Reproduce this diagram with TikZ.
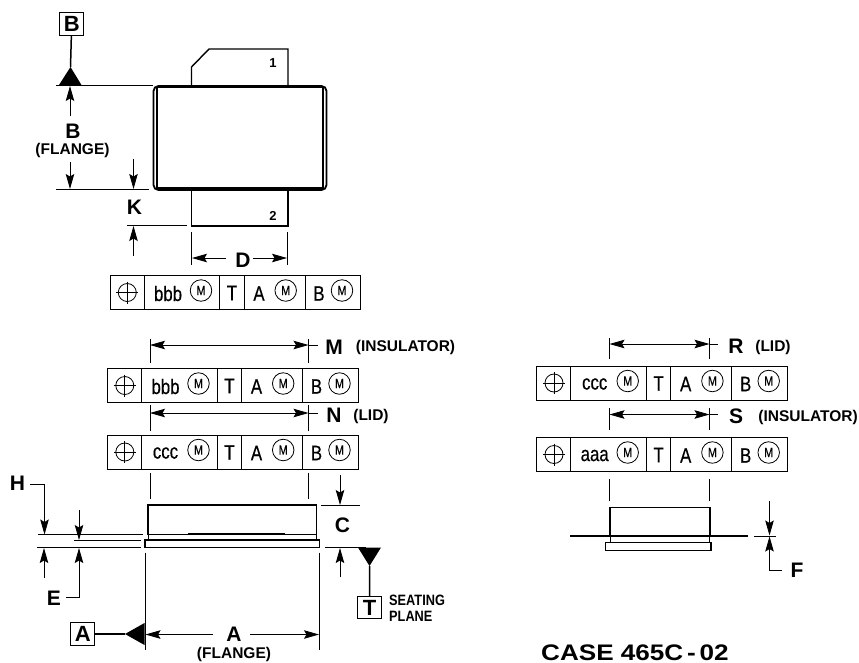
\documentclass[tikz,border=0pt]{standalone}
\usepackage{fontspec}
\setmainfont{Liberation Sans}
\newfontfamily\narrowfont[FakeStretch=0.8,FakeBold=0.4]{Liberation Sans}
\newfontfamily\narrowbold[FakeStretch=0.85]{Liberation Sans Bold}
\newfontfamily\widebold[FakeStretch=1.16]{Liberation Sans Bold}
\usetikzlibrary{fit,arrows.meta}

\tikzset{
    dim/.style={line width=0.8pt},
    dimtip/.tip={Stealth[length=15pt,width=8.5pt,inset=2.5pt]},
    dimarrow/.style={dim, -dimtip},
    dimboth/.style={dim, dimtip-dimtip},
    part/.style={line width=1.4pt},
    stem/.style={line width=1.5pt},
    datumbox/.style={draw, line width=1pt, fill=white, minimum width=24pt, minimum height=22.5pt, inner sep=0pt, font=\fontsize{22}{24}\selectfont\bfseries},
    biglabel/.style={inner sep=0pt, font=\fontsize{21}{23}\selectfont\bfseries},
    smalllabel/.style={inner sep=0pt, font=\fontsize{15.5}{17}\selectfont\bfseries},
    pinlabel/.style={inner sep=0pt, font=\fontsize{13}{14}\selectfont\bfseries},
    seatlabel/.style={inner sep=0pt, anchor=west, font=\fontsize{15}{16}\narrowbold},
    celltext/.style={inner sep=0pt, font=\fontsize{21}{23}\narrowfont},
    mcircle/.style={draw, circle, line width=0.8pt, minimum size=21.5pt, inner sep=0pt, font=\fontsize{13.5}{15}\narrowfont},
}

% one tolerance frame: name, left, top, first value
\newcommand{\tolframe}[4]{
    \begin{scope}[shift={(#2,#3)}]
        \foreach \cell/\xa/\xb in {a/0/34, b/34/109.5, c/109.5/134, d/134/195, e/195/250.5}
            \node[draw, line width=1pt, fit={(\xa, 0) (\xb, 34)}, inner sep=0pt] (#1\cell) {};

        \node[circle, draw, dim, minimum size=18pt, inner sep=0pt] (#1sym) at (17.3, 17) {};
        \draw [dim]             (6.3, 17)--(28.3, 17);
        \draw [dim]             (17.3, 6)--(17.3, 28);

        \node[celltext] (#1val) at (58, 18) {#4};
        \node[mcircle]  (#1m)   at (91, 15) {M};
        \node[celltext] (#1t)   at (122, 17.5) {T};
        \node[celltext] (#1ref) at (149, 18) {A};
        \node[mcircle]  (#1ma)  at (175.7, 15) {M};
        \node[celltext] (#1rfb) at (209, 18) {B};
        \node[mcircle]  (#1mb)  at (232, 15) {M};
    \end{scope}
}

\begin{document}
\begin{tikzpicture}[x=1pt, y=-1pt]
    \useasboundingbox (0, 0) rectangle (859, 662);

    % top view
    \draw [line width=1.8pt, rounded corners=5pt] (153.5, 86) rectangle (326.5, 190);
    \draw [part]            (157, 87.5) rectangle (323, 188);
    \draw [part]            (191.5, 87)--(191.5, 67)--(209, 49)--(288, 49)--(288, 87);
    \draw [part]            (191.5, 188)--(191.5, 226)--(288, 226)--(288, 188);
    \node[pinlabel] (pinA) at (273, 63) {1};
    \node[pinlabel] (pinB) at (273, 216) {2};

    \node[datumbox] (datumB) at (71.7, 24) {B};
    \coordinate (tipB) at (70.5, 67);
    \draw [stem] (datumB)--(tipB);
    \fill (tipB)--(81.5, 85)--(59, 85)--cycle;

    \draw [dim]             (56, 85.5)--(153, 85.5);
    \draw [dim]             (56, 189.5)--(149, 189.5);
    \draw [dim]             (127, 225.5)--(187, 225.5);
    \draw [dimarrow]        (70, 116)--(70, 86);
    \draw [dimarrow]        (70, 162)--(70, 189);
    \draw [dimarrow]        (133.5, 159)--(133.5, 189);
    \draw [dimarrow]        (133.5, 256)--(133.5, 226);
    \node[biglabel]   (labB)  at (73, 131) {B};
    \node[smalllabel] (flaB)  at (72.5, 150.5) {(FLANGE)};
    \node[biglabel]   (labK)  at (134.5, 207) {K};

    \draw [dim]             (191.5, 232)--(191.5, 265);
    \draw [dim]             (287.5, 232)--(287.5, 265);
    \draw [dimarrow]        (226, 258)--(192, 258);
    \draw [dimarrow]        (253, 258)--(287, 258);
    \node[biglabel]   (labD)  at (243, 260) {D};

    \tolframe{top}{110}{275.5}{bbb}

    % front view
    \tolframe{ins}{107.5}{368.5}{bbb}
    \tolframe{lid}{107.5}{435}{ccc}

    \draw [dim]             (150, 339)--(150, 363);
    \draw [dim]             (308.5, 339)--(308.5, 363);
    \draw [dim]             (308.5, 345)--(318, 345);
    \draw [dimboth]         (150, 345)--(308.5, 345);
    \node[biglabel]   (labM)  at (334, 347) {M};
    \node[smalllabel] (insM)  at (405.5, 347.5) {(INSULATOR)};

    \draw [dim]             (150, 405)--(150, 431);
    \draw [dim]             (308.5, 405)--(308.5, 431);
    \draw [dim]             (308.5, 413)--(318, 413);
    \draw [dimboth]         (150, 413)--(308.5, 413);
    \node[biglabel]   (labN)  at (334, 415) {N};
    \node[smalllabel] (lidN)  at (371, 416.5) {(LID)};

    \draw [dim]             (150, 473)--(150, 499);
    \draw [dim]             (308.5, 473)--(308.5, 499);

    \draw [part]            (148, 534.5)--(148, 505)--(316.5, 505)--(316.5, 534.5)--cycle;
    \draw [dim]             (148.5, 534.5)--(148.5, 540);
    \draw [dim]             (316, 534.5)--(316, 540);
    \draw [part]            (145, 540)rectangle(319.3, 547.7);
    \draw [line width=2pt]  (188, 533.5)--(285, 533.5);

    \draw [dim]             (38, 534.5)--(143, 534.5);
    \draw [dim]             (74, 540)--(141, 540);
    \draw [dim]             (37, 547.5)--(141, 547.5);
    \draw [dimarrow]        (30, 484)--(44.5, 484)--(44.5, 534.5);
    \draw [dimarrow]        (79, 510)--(79, 540);
    \draw [dimarrow]        (44, 578)--(44, 548);
    \draw [dimarrow]        (66, 597)--(79, 597)--(79, 548);
    \node[biglabel]   (labH)  at (17.5, 483) {H};
    \node[biglabel]   (labE)  at (54, 598) {E};

    \draw [dim]             (321, 505)--(360, 505);
    \draw [dim]             (325, 547.5)--(366, 547.5);
    \draw [dimarrow]        (340, 475)--(340, 505);
    \draw [dimarrow]        (340, 577)--(340, 548);
    \node[biglabel]   (labC)  at (342.5, 525) {C};

    \node[datumbox] (datumT) at (369.7, 607.5) {T};
    \coordinate (tipT) at (369.5, 566);
    \draw [stem] (datumT)--(tipT);
    \fill (tipT)--(358, 547.5)--(381, 547.5)--cycle;
    \node[seatlabel] (seat) at (389, 600.5) {SEATING};
    \node[seatlabel] (plane) at (389, 616.5) {PLANE};

    \draw [dim]             (145, 552.5)--(145, 650);
    \draw [dim]             (319.5, 552.5)--(319.5, 650);
    \node[datumbox] (datumA) at (82.7, 634) {A};
    \coordinate (tipA) at (125, 634);
    \draw [stem] (datumA)--(tipA);
    \fill (tipA)--(144.5, 623)--(144.5, 645)--cycle;
    \draw [dimarrow]        (213, 634.5)--(145.5, 634.5);
    \draw [dimarrow]        (250, 634.5)--(319, 634.5);
    \node[biglabel]   (labA)  at (234, 634.5) {A};
    \node[smalllabel] (flaA)  at (234, 654) {(FLANGE)};

    % side view
    \tolframe{rlid}{536.7}{366}{ccc}
    \tolframe{sins}{536.7}{437.5}{aaa}

    \draw [dim]             (609.5, 338)--(609.5, 359);
    \draw [dim]             (709.5, 338)--(709.5, 359);
    \draw [dim]             (709.5, 344)--(718, 344);
    \draw [dimboth]         (609.5, 344)--(709.5, 344);
    \node[biglabel]   (labR)  at (736, 346) {R};
    \node[smalllabel] (lidR)  at (773, 347) {(LID)};

    \draw [dim]             (609.5, 408)--(609.5, 429.5);
    \draw [dim]             (709.5, 408)--(709.5, 429.5);
    \draw [dim]             (709.5, 414.5)--(718, 414.5);
    \draw [dimboth]         (609.5, 414.5)--(709.5, 414.5);
    \node[biglabel]   (labS)  at (736, 416) {S};
    \node[smalllabel] (insS)  at (808, 417) {(INSULATOR)};

    \draw [dim]             (609.5, 479)--(609.5, 501);
    \draw [dim]             (709.5, 479)--(709.5, 501);

    \draw [part]            (610, 536)--(610, 507.5)--(710, 507.5)--(710, 536);
    \draw [dim]             (610.5, 536)--(610.5, 542);
    \draw [dim]             (709.5, 536)--(709.5, 542);
    \draw [part]            (605.7, 542.5)rectangle(711, 550.3);
    \draw [line width=2pt]  (570.3, 536)--(748.3, 536);

    \draw [dim]             (753.5, 536)--(776, 536);
    \draw [dimarrow]        (769.5, 501)--(769.5, 535.5);
    \draw [dimarrow]        (782, 570)--(769.5, 570)--(769.5, 536.5);
    \node[biglabel]   (labF)  at (797, 570) {F};

    \node[inner sep=0pt, anchor=base west, font=\fontsize{22.5}{24}\widebold] (caseno) at (541, 660) {CASE 465C\,-\,02};
\end{tikzpicture}
\end{document}
